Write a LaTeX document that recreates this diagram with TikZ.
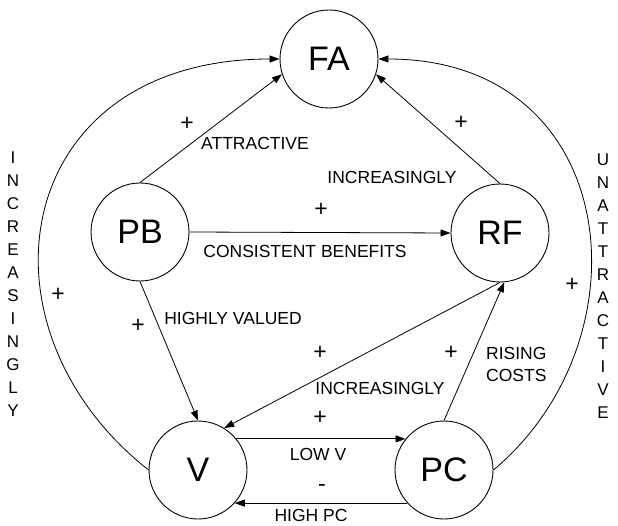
\documentclass[tikz,border=0pt]{standalone}
\usepackage{fontspec}
\setmainfont{Liberation Sans}
\usetikzlibrary{arrows.meta}
\begin{document}
\begin{tikzpicture}[x=1pt,y={(0,-1pt)},
  state/.style={draw,circle,line width=0.9pt,minimum size=98pt,inner sep=0pt,font=\fontsize{34}{34}\selectfont},
  lbl/.style={inner sep=0pt,font=\fontsize{17.5}{20}\selectfont},
  sgn/.style={inner sep=0pt,font=\fontsize{23}{23}\selectfont},
  vword/.style={inner sep=0pt,align=center,font=\fontsize{17}{23}\selectfont},
  conn/.style={line width=0.8pt,-{Triangle[length=10pt,width=7pt]}}]
\useasboundingbox (0,0) rectangle (618,526);
\node[state] (FA) at (329,59) {FA};
\node[state] (PB) at (140,232) {PB};
\node[state] (RF) at (500,233) {RF};
\node[state] (V) at (198,470) {V};
\node[state] (PC) at (444,470) {PC};
% connectors
\draw[conn] (PB.north) -- (FA.198);
\draw[conn] (RF.north) -- (FA.342);
\draw[conn] (PB.east) -- (RF.west);
\draw[conn] (PB.south) -- (V.north);
\draw[conn] (RF.south) -- (V.58);
\draw[conn] (PC.north) -- (RF.-85);
\draw[conn] (V.39) -- (PC.141);
\draw[conn] (PC.222) -- (V.318);
\draw[conn] (V.west) .. controls (-33,327) and (11,59) .. (FA.west);
\draw[conn] (PC.east) .. controls (651,338) and (621,59) .. (FA.east);
% labels
\node[sgn] (p1) at (187,124) {+};
\node[lbl] (attr) at (255,143) {ATTRACTIVE};
\node[lbl] (inc1) at (392,177) {INCREASINGLY};
\node[sgn] (p2) at (461,123) {+};
\node[sgn] (p3) at (321,210) {+};
\node[lbl] (cons) at (305,251) {CONSISTENT BENEFITS};
\node[sgn] (pl) at (58,295) {+};
\node[sgn] (p4) at (138,326) {+};
\node[lbl] (high) at (233,318) {HIGHLY VALUED};
\node[sgn] (p5) at (320,353) {+};
\node[sgn] (p6) at (451,353) {+};
\node[lbl,align=left,anchor=west,font=\fontsize{17.5}{22}\selectfont] (rise) at (486,364) {RISING\\COSTS};
\node[lbl] (inc2) at (380,388) {INCREASINGLY};
\node[sgn] (p7) at (320,418) {+};
\node[lbl] (lowv) at (318,454) {LOW V};
\node[sgn] (mn) at (322,488) {-};
\node[lbl] (hpc) at (311,515) {HIGH PC};
\node[sgn] (pr) at (572,285) {+};
\node[vword] (lw) at (13,284) {I\\N\\C\\R\\E\\A\\S\\I\\N\\G\\L\\Y};
\node[vword] (rw) at (603,286) {U\\N\\A\\T\\T\\R\\A\\C\\T\\I\\V\\E};
\end{tikzpicture}
\end{document}
